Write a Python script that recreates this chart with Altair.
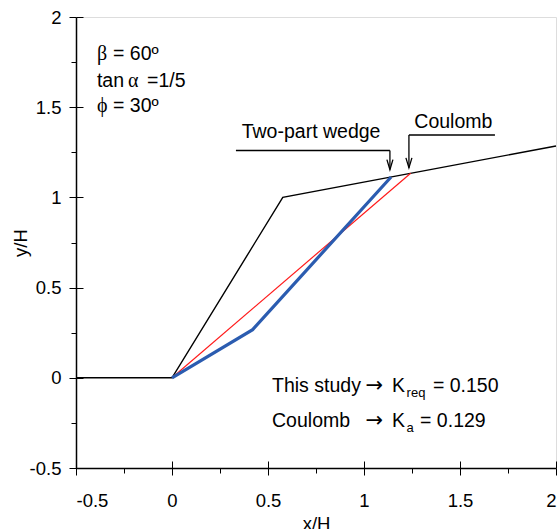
import altair as alt
import pandas as pd

# Wall / backfill profile (beta = 60 deg, backfill slope 1/5)
ground_x = [-0.5, 0.0, 0.577, 2.0]
ground_y = [0.0, 0.0, 1.0, 1.285]

# Coulomb planar failure surface
coulomb_x = [0.0, 1.243]
coulomb_y = [0.0, 1.134]

# Two-part wedge failure surface
wedge_x = [0.0, 0.42, 1.141]
wedge_y = [0.0, 0.267, 1.113]

# Leader lines for the surface labels (horizontal part, then arrow down)
leader_names = ["Two-part wedge", "Coulomb"]
leader_x1 = [0.333, 1.234]
leader_x2 = [1.135, 1.682]
leader_y = [1.260, 1.346]
arrow_x = [1.135, 1.234]
arrow_tip_y = [1.154, 1.164]

# Annotation text pieces (sans-serif)
sans_text = ["= 60º", "tan", "=1/5", "= 30º",
             "This study", "K", "= 0.150",
             "Coulomb", "K", "= 0.129",
             "Two-part wedge", "Coulomb"]
sans_x = [-0.307, -0.391, -0.130, -0.307,
          0.521, 1.146, 1.359,
          0.521, 1.146, 1.292,
          0.363, 1.262]
sans_y = [1.762, 1.613, 1.613, 1.474,
          -0.081, -0.081, -0.081,
          -0.275, -0.275, -0.275,
          1.330, 1.386]

# Arrows in the result lines
arrow_text = ["→", "→"]
arrow_tx = [1.008, 1.008]
arrow_ty = [-0.081, -0.275]

# Greek symbols (serif)
greek_text = ["β", "α", "ϕ"]
greek_x = [-0.391, -0.229, -0.391]
greek_y = [1.762, 1.613, 1.474]

# Subscripts
sub_text = ["req", "a"]
sub_x = [1.222, 1.222]
sub_y = [-0.081, -0.275]

ticks_major = [-0.5, 0, 0.5, 1, 1.5, 2]
ticks_minor = [-0.25, 0.25, 0.75, 1.25, 1.75]

FONT = "Liberation Sans"
SERIF = "Liberation Serif"

xs = alt.Scale(domain=[-0.5, 2], nice=False, zero=False)
ys = alt.Scale(domain=[-0.5, 2], nice=False, zero=False)

label_expr = "datum.value + ''"

main_x_axis = alt.Axis(values=ticks_major, labelExpr=label_expr, title="x/H",
                       tickSize=7, tickWidth=1, tickColor="black",
                       domainColor="black", domainWidth=1.5,
                       labelFont=FONT, labelFontSize=18.5, labelColor="black",
                       labelPadding=16, titleFont=FONT, titleFontSize=18.5,
                       titleFontWeight="normal", titleColor="black",
                       titlePadding=5, grid=False, orient="bottom")
main_y_axis = alt.Axis(values=ticks_major, labelExpr=label_expr, title="y/H",
                       tickSize=7, tickWidth=1, tickColor="black",
                       domainColor="black", domainWidth=1.5,
                       labelFont=FONT, labelFontSize=18.5, labelColor="black",
                       labelPadding=8, titleFont=FONT, titleFontSize=18.5,
                       titleFontWeight="normal", titleColor="black",
                       titlePadding=-1, grid=False, orient="left")

ground_df = pd.DataFrame({"x": ground_x, "y": ground_y, "o": range(len(ground_x))})
coulomb_df = pd.DataFrame({"x": coulomb_x, "y": coulomb_y, "o": range(len(coulomb_x))})
wedge_df = pd.DataFrame({"x": wedge_x, "y": wedge_y, "o": range(len(wedge_x))})

ground = alt.Chart(ground_df).mark_line(color="black", strokeWidth=1.4).encode(
    x=alt.X("x:Q", scale=xs, axis=main_x_axis),
    y=alt.Y("y:Q", scale=ys, axis=main_y_axis),
    order="o:Q",
)
coulomb = alt.Chart(coulomb_df).mark_line(color="#ff1a1a", strokeWidth=1.2).encode(
    x=alt.X("x:Q", scale=xs, axis=None),
    y=alt.Y("y:Q", scale=ys, axis=None),
    order="o:Q",
)
wedge = alt.Chart(wedge_df).mark_line(color="#2b5cb0", strokeWidth=3.2).encode(
    x=alt.X("x:Q", scale=xs, axis=None),
    y=alt.Y("y:Q", scale=ys, axis=None),
    order="o:Q",
)

leader_df = pd.DataFrame({"name": leader_names, "x1": leader_x1, "x2": leader_x2,
                          "y": leader_y, "ax": arrow_x, "tip": arrow_tip_y})
leader_h = alt.Chart(leader_df).mark_rule(color="black", strokeWidth=1.3).encode(
    x=alt.X("x1:Q", scale=xs, axis=None), x2="x2:Q",
    y=alt.Y("y:Q", scale=ys, axis=None),
)
leader_v = alt.Chart(leader_df).mark_rule(color="black", strokeWidth=1.3).encode(
    x=alt.X("ax:Q", scale=xs, axis=None),
    y=alt.Y("y:Q", scale=ys, axis=None), y2="tip:Q",
)
heads = alt.Chart(leader_df).mark_point(
    shape="M -0.6 -2 L 0 0 L 0.6 -2", size=100, filled=False,
    color="black", strokeWidth=1.3, opacity=1,
).encode(
    x=alt.X("ax:Q", scale=xs, axis=None),
    y=alt.Y("tip:Q", scale=ys, axis=None),
)

sans_df = pd.DataFrame({"t": sans_text, "x": sans_x, "y": sans_y})
arrow_df = pd.DataFrame({"t": arrow_text, "x": arrow_tx, "y": arrow_ty})
greek_df = pd.DataFrame({"t": greek_text, "x": greek_x, "y": greek_y})
sub_df = pd.DataFrame({"t": sub_text, "x": sub_x, "y": sub_y})

sans = alt.Chart(sans_df).mark_text(font=FONT, fontSize=19.5, align="left",
                                    baseline="alphabetic", color="black").encode(
    x=alt.X("x:Q", scale=xs, axis=None), y=alt.Y("y:Q", scale=ys, axis=None), text="t:N")
arrows = alt.Chart(arrow_df).mark_text(font="DejaVu Sans", fontSize=21, align="left",
                                       baseline="alphabetic", color="black").encode(
    x=alt.X("x:Q", scale=xs, axis=None), y=alt.Y("y:Q", scale=ys, axis=None), text="t:N")
greek = alt.Chart(greek_df).mark_text(font=SERIF, fontSize=20, align="left",
                                      baseline="alphabetic", color="black").encode(
    x=alt.X("x:Q", scale=xs, axis=None), y=alt.Y("y:Q", scale=ys, axis=None), text="t:N")
subs = alt.Chart(sub_df).mark_text(font=FONT, fontSize=13, align="left", dy=5,
                                   baseline="alphabetic", color="black").encode(
    x=alt.X("x:Q", scale=xs, axis=None), y=alt.Y("y:Q", scale=ys, axis=None), text="t:N")

# Extra axes: inner half of the major ticks, and short outer minor ticks
anchor_df = pd.DataFrame({"x": [-0.5], "y": [-0.5]})
inner_ticks = alt.Chart(anchor_df).mark_point(opacity=0).encode(
    x=alt.X("x:Q", scale=xs, axis=alt.Axis(values=ticks_major, labels=False, domain=False,
                                           title=None, grid=False, tickSize=7, offset=-7,
                                           tickColor="black", orient="bottom")),
    y=alt.Y("y:Q", scale=ys, axis=alt.Axis(values=ticks_major, labels=False, domain=False,
                                           title=None, grid=False, tickSize=7, offset=-7,
                                           tickColor="black", orient="left")),
)
minor_ticks = alt.Chart(anchor_df).mark_point(opacity=0).encode(
    x=alt.X("x:Q", scale=xs, axis=alt.Axis(values=ticks_minor, labels=False, domain=False,
                                           title=None, grid=False, tickSize=5,
                                           tickColor="black", orient="bottom")),
    y=alt.Y("y:Q", scale=ys, axis=alt.Axis(values=ticks_minor, labels=False, domain=False,
                                           title=None, grid=False, tickSize=5,
                                           tickColor="black", orient="left")),
)

chart = alt.layer(
    ground, coulomb, wedge, leader_h, leader_v, heads, sans, arrows, greek, subs,
    inner_ticks, minor_ticks,
).resolve_axis(x="independent", y="independent").properties(
    width=480, height=451,
    padding={"left": 76, "top": 17, "right": 4, "bottom": 61},
    autosize=alt.AutoSizeParams(type="none"),
).configure_view(stroke="black", strokeWidth=1).configure(background="white")

chart.save("out.html", embed_options={"renderer": "svg", "actions": False})
